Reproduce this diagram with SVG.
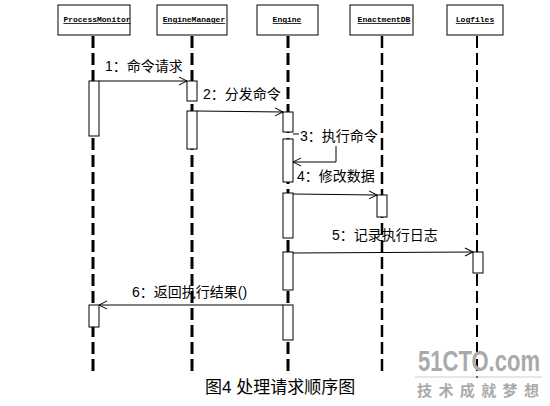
<svg xmlns="http://www.w3.org/2000/svg" width="550" height="406" viewBox="0 0 550 406">
<style>
.box{fill:#fff;stroke:#000;stroke-width:1}
.hd{font-family:"Liberation Mono",monospace;font-size:8px;font-weight:bold;text-decoration:underline;text-anchor:middle}
.life{stroke:#000;stroke-width:3;stroke-dasharray:12 5;fill:none}
.act{fill:#fff;stroke:#000;stroke-width:1}
.msg{stroke:#000;stroke-width:1;fill:none}
.lbl{font-family:"Liberation Sans","Noto Sans CJK SC",sans-serif;font-size:14px;fill:#000}
</style>
<defs>
<marker id="ah" markerWidth="10" markerHeight="10" refX="9" refY="5" orient="auto" markerUnits="userSpaceOnUse">
<path d="M1,1 L9,5 L1,9" fill="none" stroke="#000" stroke-width="1"/>
</marker>
</defs>
<rect width="550" height="406" fill="#fff"/>
<g id="lifelines">
<line class="life" x1="93" y1="36" x2="93" y2="376"/>
<line class="life" x1="192" y1="36" x2="192" y2="376"/>
<line class="life" x1="288" y1="36" x2="288" y2="376"/>
<line class="life" x1="382" y1="36" x2="382" y2="376" style="stroke-width:2.5"/>
<line class="life" x1="477" y1="36" x2="477" y2="378" style="stroke-width:2"/>
</g>
<g id="ProcessMonitor"><rect class="box" x="58" y="5" width="72" height="30"/><text class="hd" x="97" y="22">ProcessMonitor</text></g>
<g id="EngineManager"><rect class="box" x="157" y="5" width="70" height="30"/><text class="hd" x="194" y="22">EngineManager</text></g>
<g id="Engine"><rect class="box" x="257" y="5" width="61" height="30"/><text class="hd" x="287" y="22">Engine</text></g>
<g id="EnactmentDB"><rect class="box" x="350" y="5" width="63" height="30"/><text class="hd" x="384" y="22">EnactmentDB</text></g>
<g id="Logfiles"><rect class="box" x="447" y="5" width="56" height="30"/><text class="hd" x="475" y="22">Logfiles</text></g>
<g id="activations">
<rect class="act" x="89" y="81" width="10" height="55"/>
<rect class="act" x="187" y="81" width="10" height="20"/>
<rect class="act" x="187" y="111" width="10" height="38"/>
<rect class="act" x="283" y="112" width="10" height="20"/>
<rect class="act" x="283" y="139" width="10" height="43"/>
<rect class="act" x="283" y="193" width="10" height="45"/>
<rect class="act" x="377" y="195" width="10" height="22"/>
<rect class="act" x="283" y="252" width="10" height="38"/>
<rect class="act" x="473" y="252" width="10" height="21"/>
<rect class="act" x="283" y="305" width="10" height="35"/>
<rect class="act" x="89" y="305" width="10" height="22"/>
</g>
<g id="connectors">
<line class="msg" x1="99" y1="81" x2="187" y2="81" marker-end="url(#ah)"/>
<line class="msg" x1="197" y1="111" x2="283" y2="112" marker-end="url(#ah)"/>
<line class="msg" x1="293" y1="134" x2="299" y2="134"/>
<polyline class="msg" points="336,146 336,162 293,162" marker-end="url(#ah)"/>
<line class="msg" x1="293" y1="194" x2="377" y2="195" marker-end="url(#ah)"/>
<line class="msg" x1="293" y1="253" x2="473" y2="252" marker-end="url(#ah)"/>
<line class="msg" x1="283" y1="305" x2="99" y2="305" marker-end="url(#ah)"/>
</g>
<g id="labels">
<text class="lbl" x="105" y="71">1：命令请求</text>
<text class="lbl" x="203" y="99">2：分发命令</text>
<text class="lbl" x="300" y="141">3：执行命令</text>
<text class="lbl" x="297" y="181">4：修改数据</text>
<text class="lbl" x="332" y="240">5：记录执行日志</text>
<text class="lbl" x="132" y="297">6：返回执行结果()</text>
</g>
<text x="205" y="393" font-family="'Liberation Sans','Noto Sans CJK SC',sans-serif" font-size="17">图4 处理请求顺序图</text>
<g id="watermark" fill="#aaa">
<text x="418" y="371" font-family="'Liberation Sans',sans-serif" font-size="29" font-weight="bold" textLength="122" lengthAdjust="spacingAndGlyphs">51CTO.com</text>
<line x1="415" y1="377" x2="542" y2="377" stroke="#ccc" stroke-width="1"/>
<text x="417" y="396" font-family="'Noto Sans CJK SC',sans-serif" font-size="15" font-weight="bold" textLength="122">技术成就梦想</text>
</g>
</svg>
